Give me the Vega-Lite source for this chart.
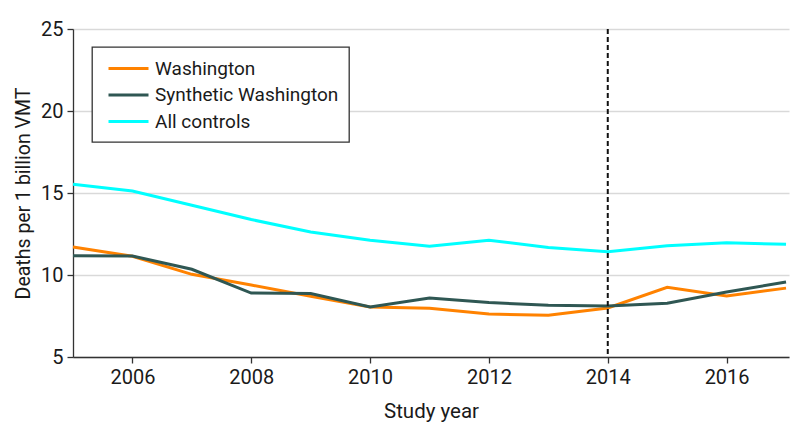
{
  "$schema": "https://vega.github.io/schema/vega-lite/v6.json",
  "width": 716,
  "height": 328,
  "autosize": "none",
  "padding": {"left": 73, "top": 29, "right": 5, "bottom": 87},
  "config": {
    "font": "Roboto",
    "view": {"stroke": null},
    "axis": {
      "labelFontSize": 20,
      "titleFontSize": 19.5,
      "titleFontWeight": "normal",
      "labelColor": "#1a1a1a",
      "titleColor": "#1a1a1a",
      "domainColor": "#333333",
      "tickColor": "#333333",
      "domainWidth": 1.3,
      "tickWidth": 1.3,
      "tickSize": 6,
      "labelPadding": 4,
      "gridColor": "#d9d9d9",
      "gridWidth": 1.5
    },
    "legend": {
      "labelFontSize": 19,
      "labelColor": "#1a1a1a",
      "labelLimit": 400,
      "strokeColor": "#333333",
      "strokeWidth": 1.3,
      "fillColor": "white",
      "padding": 10,
      "rowPadding": 4.5,
      "symbolType": "M-2,0L2,0",
      "symbolStrokeWidth": 3,
      "symbolSize": 400,
      "symbolOffset": 15,
      "labelOffset": 15
    }
  },
  "datasets": {
    "rates": [
      {"year": 2005, "series": "Washington", "rate": 11.71},
      {"year": 2006, "series": "Washington", "rate": 11.14},
      {"year": 2007, "series": "Washington", "rate": 10.04},
      {"year": 2008, "series": "Washington", "rate": 9.39},
      {"year": 2009, "series": "Washington", "rate": 8.7},
      {"year": 2010, "series": "Washington", "rate": 8.05},
      {"year": 2011, "series": "Washington", "rate": 7.97},
      {"year": 2012, "series": "Washington", "rate": 7.62},
      {"year": 2013, "series": "Washington", "rate": 7.54},
      {"year": 2014, "series": "Washington", "rate": 7.99},
      {"year": 2015, "series": "Washington", "rate": 9.25},
      {"year": 2016, "series": "Washington", "rate": 8.72},
      {"year": 2017, "series": "Washington", "rate": 9.2},
      {"year": 2005, "series": "Synthetic Washington", "rate": 11.18},
      {"year": 2006, "series": "Synthetic Washington", "rate": 11.16},
      {"year": 2007, "series": "Synthetic Washington", "rate": 10.35},
      {"year": 2008, "series": "Synthetic Washington", "rate": 8.9},
      {"year": 2009, "series": "Synthetic Washington", "rate": 8.87},
      {"year": 2010, "series": "Synthetic Washington", "rate": 8.05},
      {"year": 2011, "series": "Synthetic Washington", "rate": 8.6},
      {"year": 2012, "series": "Synthetic Washington", "rate": 8.32},
      {"year": 2013, "series": "Synthetic Washington", "rate": 8.15},
      {"year": 2014, "series": "Synthetic Washington", "rate": 8.11},
      {"year": 2015, "series": "Synthetic Washington", "rate": 8.28},
      {"year": 2016, "series": "Synthetic Washington", "rate": 8.96},
      {"year": 2017, "series": "Synthetic Washington", "rate": 9.57},
      {"year": 2005, "series": "All controls", "rate": 15.53},
      {"year": 2006, "series": "All controls", "rate": 15.12},
      {"year": 2007, "series": "All controls", "rate": 14.25},
      {"year": 2008, "series": "All controls", "rate": 13.38},
      {"year": 2009, "series": "All controls", "rate": 12.62},
      {"year": 2010, "series": "All controls", "rate": 12.12},
      {"year": 2011, "series": "All controls", "rate": 11.75},
      {"year": 2012, "series": "All controls", "rate": 12.12},
      {"year": 2013, "series": "All controls", "rate": 11.67},
      {"year": 2014, "series": "All controls", "rate": 11.42},
      {"year": 2015, "series": "All controls", "rate": 11.79},
      {"year": 2016, "series": "All controls", "rate": 11.97},
      {"year": 2017, "series": "All controls", "rate": 11.87}
    ],
    "policy": [
      {"year": 2014}
    ]
  },
  "layer": [
    {
      "data": {"name": "rates"},
      "mark": {"type": "line", "strokeWidth": 3},
      "encoding": {
        "x": {
          "field": "year",
          "type": "quantitative",
          "scale": {"domain": [2005, 2017.05], "nice": false, "zero": false},
          "axis": {"values": [2006, 2008, 2010, 2012, 2014, 2016], "format": "d", "grid": false, "title": "Study year", "titleFontSize": 20.5, "titlePadding": 14}
        },
        "y": {
          "field": "rate",
          "type": "quantitative",
          "scale": {"domain": [5, 25], "nice": false},
          "axis": {"values": [5, 10, 15, 20, 25], "grid": true, "title": "Deaths per 1 billion VMT", "titlePadding": 7}
        },
        "color": {
          "field": "series",
          "type": "nominal",
          "scale": {
            "domain": ["Washington", "Synthetic Washington", "All controls"],
            "range": ["#ff8200", "#2f5753", "#00ffff"]
          },
          "legend": {"title": null, "orient": "none", "legendX": 19, "legendY": 18}
        }
      }
    },
    {
      "data": {"name": "policy"},
      "mark": {"type": "rule", "color": "#111111", "strokeWidth": 2, "strokeDash": [5, 3]},
      "encoding": {
        "x": {"field": "year", "type": "quantitative"}
      }
    }
  ]
}
